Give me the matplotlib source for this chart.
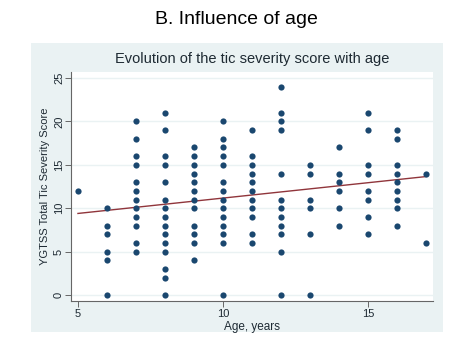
import numpy as np
import matplotlib
matplotlib.use("Agg")
import matplotlib.pyplot as plt
from matplotlib.patches import Rectangle

plt.rcParams['font.family'] = ['Liberation Sans', 'DejaVu Sans']

# tic severity scores by age (years)
scores = {
    5: [12],
    6: [10, 8, 7, 5, 4, 0],
    7: [20, 18, 16, 15, 13, 12, 11, 10, 9, 8, 6, 5],
    8: [21, 19, 16, 15, 13, 11, 10, 9, 8, 7, 6, 5, 3, 2, 0],
    9: [17, 16, 15, 14, 13, 12, 11, 10, 8, 7, 6, 4],
    10: [20, 18, 17, 16, 15, 13, 12, 11, 10, 9, 8, 7, 6, 0],
    11: [19, 16, 15, 14, 13, 12, 11, 10, 9, 7, 6],
    12: [24, 21, 20, 19, 14, 11, 10, 9, 8, 7, 5, 0],
    13: [15, 14, 11, 10, 7, 0],
    14: [17, 14, 13, 12, 10, 8],
    15: [21, 19, 15, 14, 12, 11, 9, 7],
    16: [19, 18, 15, 14, 13, 12, 11, 10, 8],
    17: [14, 6],
}
ages = np.concatenate([[a] * len(v) for a, v in scores.items()]).astype(float)
ygtss = np.concatenate([v for v in scores.values()]).astype(float)

# linear fit line end points
fit_x = [5, 17]
fit_y = [9.4, 13.65]

bg = '#eaf2f3'
navy = '#1a476f'
maroon = '#90353b'

W, H = 474, 338
fig = plt.figure(figsize=(W / 100, H / 100), dpi=100)
fig.patch.set_facecolor('white')

# stata graph region
fig.patches.append(Rectangle((31 / W, 1 - 332 / H), 412 / W, 289 / H,
                             transform=fig.transFigure, facecolor=bg,
                             edgecolor='none', zorder=0))

fig.text(236.5 / W, 1 - 20 / H, 'B. Influence of age', ha='center', va='center',
         fontsize=14, color='black')
fig.text(252 / W, 1 - 59 / H, 'Evolution of the tic severity score with age',
         ha='center', va='center', fontsize=10.5, color='#1e2a33')

ax = fig.add_axes([71 / W, 1 - 301 / H, 362 / W, 229 / H])
ax.set_zorder(2)
ax.set_facecolor('white')
ax.scatter(ages, ygtss, s=20, color=navy, zorder=3, linewidths=0)
ax.plot(fit_x, fit_y, color=maroon, lw=1, zorder=2)

ax.set_xlim(4.76, 17.24)
ax.set_ylim(-0.69, 25.7)
ax.set_xticks([5, 10, 15])
ax.set_yticks([0, 5, 10, 15, 20, 25])
ax.set_yticklabels(['0', '5', '10', '15', '20', '25'], rotation=90, va='center')
ax.grid(axis='y', color=bg, lw=1)
ax.set_axisbelow(True)
for s in ['top', 'right']:
    ax.spines[s].set_visible(False)
for s in ['left', 'bottom']:
    ax.spines[s].set_color('#666666')
    ax.spines[s].set_linewidth(0.8)
ax.tick_params(axis='both', labelsize=8, length=4, width=0.7, color='#666666',
               labelcolor='#1e2a33', pad=2)
ax.tick_params(axis='y', pad=1)
ax.set_xlabel('Age, years', fontsize=8.5, color='#1e2a33', labelpad=1)
ax.set_ylabel('YGTSS Total Tic Severity Score', fontsize=8, color='#1e2a33', labelpad=3)

fig.savefig('out.png', dpi=100)
